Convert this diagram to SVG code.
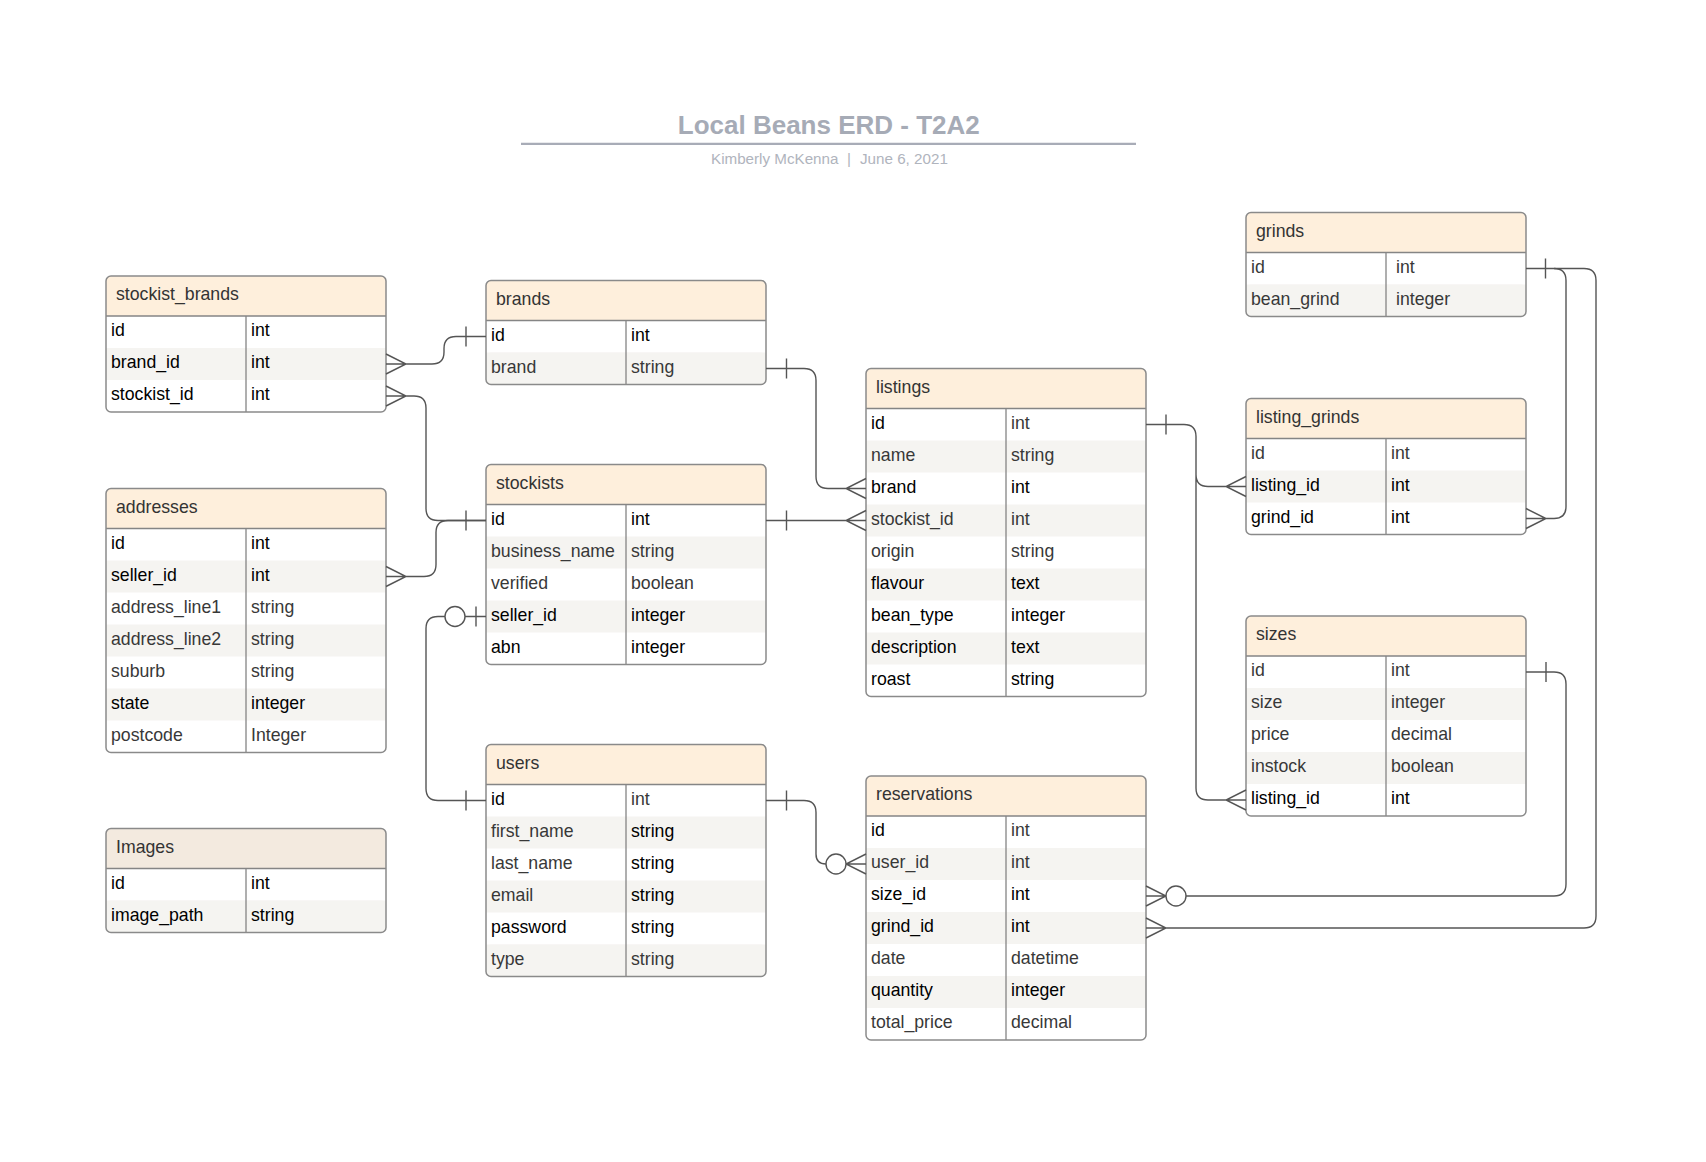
<svg xmlns="http://www.w3.org/2000/svg" width="1706" height="1162" viewBox="0 0 1706 1162">
<style>
.bg{fill:#fff}
.hd{fill:#feefdc}
.hi{fill:#f3eadf}
.alt{fill:#f5f4f1}
.ln{fill:none;stroke:#858585;stroke-width:1.3}
.ol{fill:none;stroke:#8a8a8a;stroke-width:1.5}
text{font-family:"Liberation Sans",Arial,sans-serif;font-size:17.7px}
.h{fill:#333}
.k{fill:#000}
.g{fill:#383838}
.cn{fill:none;stroke:#555;stroke-width:1.4}
.ci{fill:#fff;stroke:#555;stroke-width:1.4}
.tt{font-family:"Liberation Sans",Arial,sans-serif;font-weight:bold;font-size:26px;fill:#a6abb6}
.st{font-family:"Liberation Sans",Arial,sans-serif;font-size:15.2px;fill:#b0b4bd}
</style>
<rect width="1706" height="1162" fill="#fff"/>

<g id="title">
<text class="tt" x="828.8" y="134.3" text-anchor="middle">Local Beans ERD - T2A2</text>
<line x1="521" y1="143.8" x2="1136" y2="143.8" stroke="#a8acb7" stroke-width="2.2"/>
<text class="st" x="711" y="164.3">Kimberly McKenna</text>
<text class="st" x="847" y="164.3">|</text>
<text class="st" x="860" y="164.3">June 6, 2021</text>
</g>

<g id="stockist_brands">
<rect class="bg" x="106" y="276" width="280" height="136" rx="5"/>
<rect class="hd" x="106" y="276" width="280" height="40" rx="5"/><rect class="hd" x="106" y="296" width="280" height="20"/>
<rect class="alt" x="106" y="348" width="280" height="32"/>
<path class="ln" d="M106,316H386M246,316V412"/>
<rect class="ol" x="106" y="276" width="280" height="136" rx="5"/>
<text class="h" x="116" y="300">stockist_brands</text>
<text class="k" x="111" y="336">id</text><text class="k" x="251" y="336">int</text>
<text class="k" x="111" y="368">brand_id</text><text class="k" x="251" y="368">int</text>
<text class="k" x="111" y="400">stockist_id</text><text class="k" x="251" y="400">int</text>
</g>

<g id="brands">
<rect class="bg" x="486" y="280.5" width="280" height="104" rx="5"/>
<rect class="hd" x="486" y="280.5" width="280" height="40" rx="5"/><rect class="hd" x="486" y="300.5" width="280" height="20"/>
<rect class="alt" x="486" y="352.5" width="280" height="32" rx="5"/><rect class="alt" x="486" y="352.5" width="280" height="16"/>
<path class="ln" d="M486,320.5H766M626,320.5V384.5"/>
<rect class="ol" x="486" y="280.5" width="280" height="104" rx="5"/>
<text class="h" x="496" y="304.5">brands</text>
<text class="k" x="491" y="340.5">id</text><text class="k" x="631" y="340.5">int</text>
<text class="g" x="491" y="372.5">brand</text><text class="g" x="631" y="372.5">string</text>
</g>

<g id="stockists">
<rect class="bg" x="486" y="464.5" width="280" height="200" rx="5"/>
<rect class="hd" x="486" y="464.5" width="280" height="40" rx="5"/><rect class="hd" x="486" y="484.5" width="280" height="20"/>
<rect class="alt" x="486" y="536.5" width="280" height="32"/>
<rect class="alt" x="486" y="600.5" width="280" height="32"/>
<path class="ln" d="M486,504.5H766M626,504.5V664.5"/>
<rect class="ol" x="486" y="464.5" width="280" height="200" rx="5"/>
<text class="h" x="496" y="488.5">stockists</text>
<text class="k" x="491" y="524.5">id</text><text class="k" x="631" y="524.5">int</text>
<text class="g" x="491" y="556.5">business_name</text><text class="g" x="631" y="556.5">string</text>
<text class="g" x="491" y="588.5">verified</text><text class="g" x="631" y="588.5">boolean</text>
<text class="k" x="491" y="620.5">seller_id</text><text class="k" x="631" y="620.5">integer</text>
<text class="k" x="491" y="652.5">abn</text><text class="k" x="631" y="652.5">integer</text>
</g>

<g id="addresses">
<rect class="bg" x="106" y="488.5" width="280" height="264" rx="5"/>
<rect class="hd" x="106" y="488.5" width="280" height="40" rx="5"/><rect class="hd" x="106" y="508.5" width="280" height="20"/>
<rect class="alt" x="106" y="560.5" width="280" height="32"/>
<rect class="alt" x="106" y="624.5" width="280" height="32"/>
<rect class="alt" x="106" y="688.5" width="280" height="32"/>
<path class="ln" d="M106,528.5H386M246,528.5V752.5"/>
<rect class="ol" x="106" y="488.5" width="280" height="264" rx="5"/>
<text class="h" x="116" y="512.5">addresses</text>
<text class="k" x="111" y="548.5">id</text><text class="k" x="251" y="548.5">int</text>
<text class="k" x="111" y="580.5">seller_id</text><text class="k" x="251" y="580.5">int</text>
<text class="g" x="111" y="612.5">address_line1</text><text class="g" x="251" y="612.5">string</text>
<text class="g" x="111" y="644.5">address_line2</text><text class="g" x="251" y="644.5">string</text>
<text class="g" x="111" y="676.5">suburb</text><text class="g" x="251" y="676.5">string</text>
<text class="k" x="111" y="708.5">state</text><text class="k" x="251" y="708.5">integer</text>
<text class="g" x="111" y="740.5">postcode</text><text class="g" x="251" y="740.5">Integer</text>
</g>

<g id="images">
<rect class="bg" x="106" y="828.5" width="280" height="104" rx="5"/>
<rect class="hi" x="106" y="828.5" width="280" height="40" rx="5"/><rect class="hi" x="106" y="848.5" width="280" height="20"/>
<rect class="alt" x="106" y="900.5" width="280" height="32" rx="5"/><rect class="alt" x="106" y="900.5" width="280" height="16"/>
<path class="ln" d="M106,868.5H386M246,868.5V932.5"/>
<rect class="ol" x="106" y="828.5" width="280" height="104" rx="5"/>
<text class="h" x="116" y="852.5">Images</text>
<text class="k" x="111" y="888.5">id</text><text class="k" x="251" y="888.5">int</text>
<text class="k" x="111" y="920.5">image_path</text><text class="k" x="251" y="920.5">string</text>
</g>

<g id="users">
<rect class="bg" x="486" y="744.5" width="280" height="232" rx="5"/>
<rect class="hd" x="486" y="744.5" width="280" height="40" rx="5"/><rect class="hd" x="486" y="764.5" width="280" height="20"/>
<rect class="alt" x="486" y="816.5" width="280" height="32"/>
<rect class="alt" x="486" y="880.5" width="280" height="32"/>
<rect class="alt" x="486" y="944.5" width="280" height="32" rx="5"/><rect class="alt" x="486" y="944.5" width="280" height="16"/>
<path class="ln" d="M486,784.5H766M626,784.5V976.5"/>
<rect class="ol" x="486" y="744.5" width="280" height="232" rx="5"/>
<text class="h" x="496" y="768.5">users</text>
<text class="k" x="491" y="804.5">id</text><text class="g" x="631" y="804.5">int</text>
<text class="g" x="491" y="836.5">first_name</text><text class="k" x="631" y="836.5">string</text>
<text class="g" x="491" y="868.5">last_name</text><text class="k" x="631" y="868.5">string</text>
<text class="g" x="491" y="900.5">email</text><text class="k" x="631" y="900.5">string</text>
<text class="k" x="491" y="932.5">password</text><text class="k" x="631" y="932.5">string</text>
<text class="g" x="491" y="964.5">type</text><text class="g" x="631" y="964.5">string</text>
</g>

<g id="listings">
<rect class="bg" x="866" y="368.5" width="280" height="328" rx="5"/>
<rect class="hd" x="866" y="368.5" width="280" height="40" rx="5"/><rect class="hd" x="866" y="388.5" width="280" height="20"/>
<rect class="alt" x="866" y="440.5" width="280" height="32"/>
<rect class="alt" x="866" y="504.5" width="280" height="32"/>
<rect class="alt" x="866" y="568.5" width="280" height="32"/>
<rect class="alt" x="866" y="632.5" width="280" height="32"/>
<path class="ln" d="M866,408.5H1146M1006,408.5V696.5"/>
<rect class="ol" x="866" y="368.5" width="280" height="328" rx="5"/>
<text class="h" x="876" y="392.5">listings</text>
<text class="k" x="871" y="428.5">id</text><text class="g" x="1011" y="428.5">int</text>
<text class="g" x="871" y="460.5">name</text><text class="g" x="1011" y="460.5">string</text>
<text class="k" x="871" y="492.5">brand</text><text class="k" x="1011" y="492.5">int</text>
<text class="g" x="871" y="524.5">stockist_id</text><text class="g" x="1011" y="524.5">int</text>
<text class="g" x="871" y="556.5">origin</text><text class="g" x="1011" y="556.5">string</text>
<text class="k" x="871" y="588.5">flavour</text><text class="k" x="1011" y="588.5">text</text>
<text class="k" x="871" y="620.5">bean_type</text><text class="k" x="1011" y="620.5">integer</text>
<text class="k" x="871" y="652.5">description</text><text class="k" x="1011" y="652.5">text</text>
<text class="k" x="871" y="684.5">roast</text><text class="k" x="1011" y="684.5">string</text>
</g>

<g id="reservations">
<rect class="bg" x="866" y="776" width="280" height="264" rx="5"/>
<rect class="hd" x="866" y="776" width="280" height="40" rx="5"/><rect class="hd" x="866" y="796" width="280" height="20"/>
<rect class="alt" x="866" y="848" width="280" height="32"/>
<rect class="alt" x="866" y="912" width="280" height="32"/>
<rect class="alt" x="866" y="976" width="280" height="32"/>
<path class="ln" d="M866,816H1146M1006,816V1040"/>
<rect class="ol" x="866" y="776" width="280" height="264" rx="5"/>
<text class="h" x="876" y="800">reservations</text>
<text class="k" x="871" y="836">id</text><text class="g" x="1011" y="836">int</text>
<text class="g" x="871" y="868">user_id</text><text class="g" x="1011" y="868">int</text>
<text class="k" x="871" y="900">size_id</text><text class="k" x="1011" y="900">int</text>
<text class="k" x="871" y="932">grind_id</text><text class="k" x="1011" y="932">int</text>
<text class="g" x="871" y="964">date</text><text class="g" x="1011" y="964">datetime</text>
<text class="k" x="871" y="996">quantity</text><text class="k" x="1011" y="996">integer</text>
<text class="g" x="871" y="1028">total_price</text><text class="g" x="1011" y="1028">decimal</text>
</g>

<g id="grinds">
<rect class="bg" x="1246" y="212.5" width="280" height="104" rx="5"/>
<rect class="hd" x="1246" y="212.5" width="280" height="40" rx="5"/><rect class="hd" x="1246" y="232.5" width="280" height="20"/>
<rect class="alt" x="1246" y="284.5" width="280" height="32" rx="5"/><rect class="alt" x="1246" y="284.5" width="280" height="16"/>
<path class="ln" d="M1246,252.5H1526M1386,252.5V316.5"/>
<rect class="ol" x="1246" y="212.5" width="280" height="104" rx="5"/>
<text class="h" x="1256" y="236.5">grinds</text>
<text class="g" x="1251" y="272.5">id</text><text class="g" x="1396" y="272.5">int</text>
<text class="g" x="1251" y="304.5">bean_grind</text><text class="g" x="1396" y="304.5">integer</text>
</g>

<g id="listing_grinds">
<rect class="bg" x="1246" y="398.5" width="280" height="136" rx="5"/>
<rect class="hd" x="1246" y="398.5" width="280" height="40" rx="5"/><rect class="hd" x="1246" y="418.5" width="280" height="20"/>
<rect class="alt" x="1246" y="470.5" width="280" height="32"/>
<path class="ln" d="M1246,438.5H1526M1386,438.5V534.5"/>
<rect class="ol" x="1246" y="398.5" width="280" height="136" rx="5"/>
<text class="h" x="1256" y="422.5">listing_grinds</text>
<text class="g" x="1251" y="458.5">id</text><text class="g" x="1391" y="458.5">int</text>
<text class="k" x="1251" y="490.5">listing_id</text><text class="k" x="1391" y="490.5">int</text>
<text class="k" x="1251" y="522.5">grind_id</text><text class="k" x="1391" y="522.5">int</text>
</g>

<g id="sizes">
<rect class="bg" x="1246" y="616" width="280" height="200" rx="5"/>
<rect class="hd" x="1246" y="616" width="280" height="40" rx="5"/><rect class="hd" x="1246" y="636" width="280" height="20"/>
<rect class="alt" x="1246" y="688" width="280" height="32"/>
<rect class="alt" x="1246" y="752" width="280" height="32"/>
<path class="ln" d="M1246,656H1526M1386,656V816"/>
<rect class="ol" x="1246" y="616" width="280" height="200" rx="5"/>
<text class="h" x="1256" y="640">sizes</text>
<text class="g" x="1251" y="676">id</text><text class="g" x="1391" y="676">int</text>
<text class="g" x="1251" y="708">size</text><text class="g" x="1391" y="708">integer</text>
<text class="g" x="1251" y="740">price</text><text class="g" x="1391" y="740">decimal</text>
<text class="g" x="1251" y="772">instock</text><text class="g" x="1391" y="772">boolean</text>
<text class="k" x="1251" y="804">listing_id</text><text class="k" x="1391" y="804">int</text>
</g>

<g id="connectors">
<path class="cn" d="M386,354L406,364L386,374M386,364H432Q444,364 444,352V348.5Q444,336.5 456,336.5H486M466,326.5V346.5"/>
<path class="cn" d="M386,386L406,396L386,406M386,396H414Q426,396 426,408V508.5Q426,520.5 438,520.5H486M466,510.5V530.5"/>
<path class="cn" d="M386,566.5L406,576.5L386,586.5M386,576.5H424Q436,576.5 436,564.5V532.5Q436,520.5 448,520.5H486"/>
<path class="cn" d="M486,800.5H438Q426,800.5 426,788.5V628.5Q426,616.5 438,616.5H445M465,616.5H486M466,790.5V810.5M476,606.5V626.5"/>
<circle class="ci" cx="455" cy="616.5" r="10"/>
<path class="cn" d="M766,368.5H804Q816,368.5 816,380.5V476.5Q816,488.5 828,488.5H866M866,478.5L846,488.5L866,498.5M786.5,358.5V378.5"/>
<path class="cn" d="M766,520.5H866M866,510.5L846,520.5L866,530.5M786.5,510.5V530.5"/>
<path class="cn" d="M766,800.5H804Q816,800.5 816,812.5V854Q816,864 826,864M846,864H866M866,854L846,864L866,874M786.5,790.5V810.5"/>
<circle class="ci" cx="836" cy="864" r="10"/>
<path class="cn" d="M1146,424.5H1184Q1196,424.5 1196,436.5V788Q1196,800 1208,800H1246M1196,474.5Q1196,486.5 1208,486.5H1246M1246,476.5L1226,486.5L1246,496.5M1246,790L1226,800L1246,810M1166,414.5V434.5"/>
<path class="cn" d="M1526,268.5H1554Q1566,268.5 1566,280.5V506.5Q1566,518.5 1554,518.5H1526M1526,508.5L1546,518.5L1526,528.5M1545.5,258.5V278.5"/>
<path class="cn" d="M1554,268.5H1584Q1596,268.5 1596,280.5V916Q1596,928 1584,928H1146M1146,918L1166,928L1146,938"/>
<path class="cn" d="M1526,672H1554Q1566,672 1566,684V884Q1566,896 1554,896H1186M1166,896H1146M1146,886L1166,896L1146,906M1546,662V682"/>
<circle class="ci" cx="1176" cy="896" r="10"/>
</g>
</svg>
